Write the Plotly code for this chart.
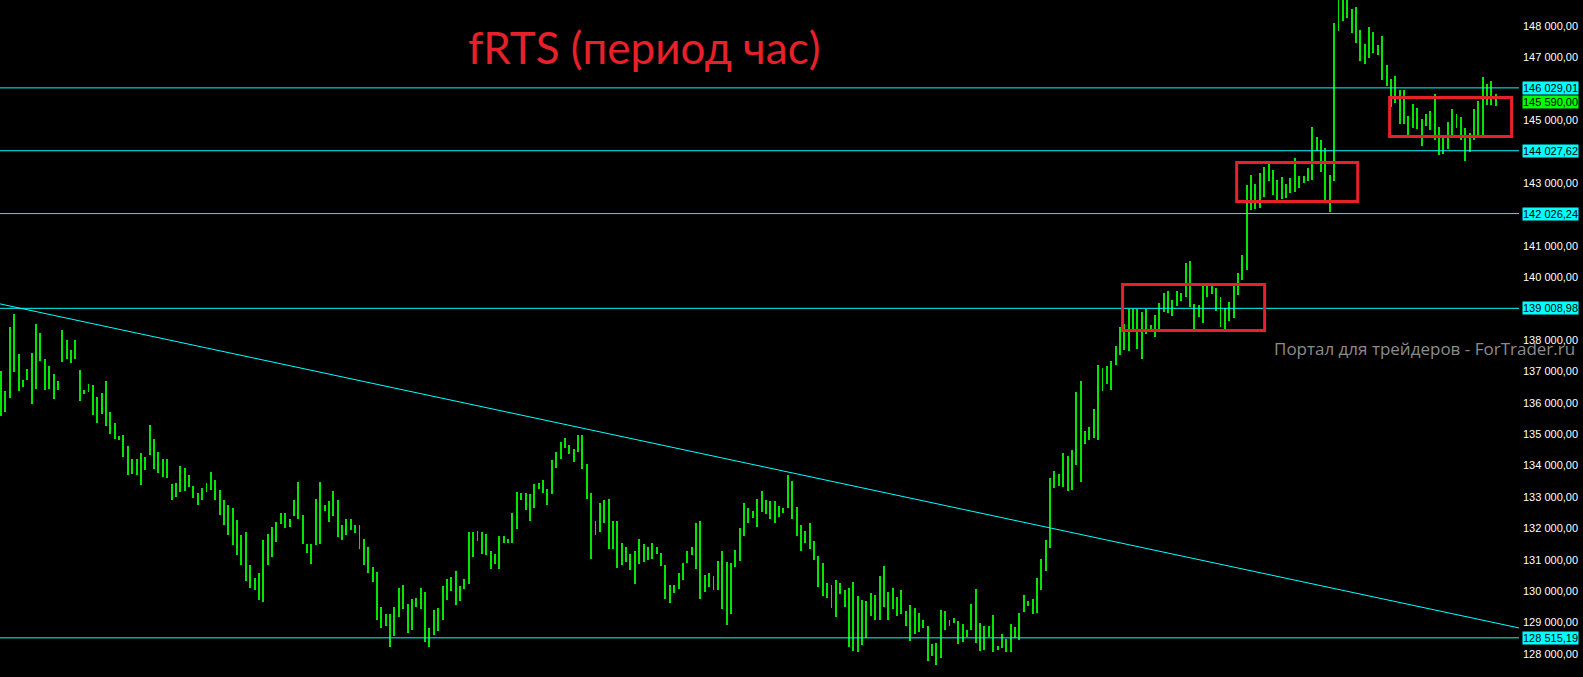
import plotly.graph_objects as go

# ---- data: hourly bars of fRTS (high / low, price units) ----
highs = [137020,136380,138420,138830,137550,136730,137070,137580,138510,138220,
137390,137170,136920,136700,138320,138000,137680,138000,137050,136410,
136600,136570,136190,136310,136700,135710,135350,134940,134970,134630,
134210,134210,134400,134270,135290,134850,134440,134210,134210,133410,
133440,133990,133920,133700,133350,133120,133290,133440,133800,133540,
133220,132910,132750,132660,132270,131790,131890,130830,130420,130580,
131630,131820,132050,132210,132490,132490,132300,132910,133480,132430,
131500,131500,132940,133480,132750,132880,133190,132910,132110,132300,
132300,132110,132110,131660,131410,130770,130610,129500,129270,129270,
129500,130100,130200,129590,129750,129780,130100,129980,128830,129400,
129470,130170,130390,130450,130650,130170,130390,131890,131890,131920,
131890,131820,131280,131180,131760,131760,131660,132490,133160,133120,
133120,133090,133410,133440,133540,133250,134180,134440,134760,134880,
134660,134530,134970,134970,134050,133120,132240,132810,132910,132940,
132240,132240,131530,131410,131180,131280,131660,131500,131410,131530,
131410,131210,130830,130200,130200,130580,130900,131280,131410,132180,
132240,130520,130580,130490,130960,131280,130930,130900,131310,132020,
132810,132660,132560,132940,133190,132910,132880,132880,132720,132660,
133700,133510,132690,132110,131920,132180,131600,131120,130900,130260,
130200,130360,130260,130040,130100,130300,129850,129720,129690,129950,
129880,130490,130800,129980,130100,129820,130040,129370,129560,129470,
129310,129080,128890,128320,128350,129400,129370,129080,129150,129050,
128960,128760,129590,130070,128990,128890,128890,129240,128260,128630,
128480,128960,128860,129310,129880,129690,129750,130420,131020,131630,
133610,133830,133730,134400,134310,134500,136350,136700,135100,135230,
135800,137200,137110,137170,137330,137810,138420,138510,138990,138990,
138990,138900,138990,138480,138800,139180,139500,139560,139280,139560,
139500,140450,140520,139150,139120,139720,139720,139720,139660,139370,
139020,139210,139720,140130,140710,142940,143260,142970,143320,143510,
143610,143420,143100,143190,142970,143160,143800,143220,143220,143480,
144790,144470,144370,144120,143260,148100,148950,148950,148950,148540,
148610,147870,147430,147970,147810,147400,147680,146760,146310,146410,
145960,145960,145140,145520,145390,145040,145200,145300,145840,144790,
144430,144940,145360,145200,145100,144750,144590,145360,145610,146380,
146150,146250,145840]

lows = [135580,135710,136160,136990,136380,136510,136730,135960,136440,137330,
136410,136440,136120,136410,137300,137390,137260,137390,136060,136280,
136350,135610,135350,135640,135260,135000,134850,134820,134270,133700,
133730,133700,133380,133860,134340,133890,133760,133640,133610,132910,
133000,133160,133190,133320,132970,132750,132910,133160,133220,132910,
132430,132110,131790,131470,131150,130830,130330,130100,130040,129720,
129660,130830,131080,131570,132140,132020,132050,132400,132300,131500,
131210,130860,131470,131500,132560,132210,132400,131730,131630,131790,
131950,131850,131340,130830,130580,130300,129080,128830,128890,128220,
128570,129180,129430,128670,128760,129500,129430,128380,128220,128600,
128730,129080,129720,130010,129560,129690,130070,130230,131080,131600,
131180,131150,130710,130860,130710,131530,131530,131530,131980,132910,
132590,132240,132660,133250,133120,132750,133090,133920,134210,134570,
134370,134120,134440,133890,132940,131020,131790,131890,132180,131340,
131340,130740,130830,130930,130680,130230,130860,130930,130990,131020,
131180,130800,129750,129620,129950,130070,130360,130900,131150,130710,
129750,129980,130140,130040,130040,129430,128920,129270,130770,130960,
131760,132180,132330,132050,132520,132460,132300,132180,132370,132490,
132660,132300,131760,131280,131530,131340,130990,130140,129850,129780,
129470,129180,129910,129500,128220,128100,128060,128290,128510,129210,
129080,129080,129500,129080,129430,129210,129270,128890,128410,128630,
128700,128830,127780,127940,127650,127870,128760,128890,128990,128320,
128380,128540,128760,128350,128100,128130,128540,128060,128130,128190,
128060,128060,128510,128450,129340,129530,129270,129310,130040,130650,
131370,133290,133350,133320,133190,133220,134020,133480,134690,134820,
134880,134820,136380,136600,136410,137200,137520,137680,137650,138350,
137710,137390,138190,138350,138100,138350,138900,138860,138770,139090,
139250,139370,139050,138350,138730,138540,139370,139470,138930,138420,
138350,138610,138700,139430,139910,140230,142140,142170,142210,142560,
143070,142620,142370,142490,142520,142680,142710,142840,143000,143070,
143100,144020,143350,142400,142080,143070,147840,148160,148260,147780,
147460,146890,146790,146980,147140,147080,146280,146090,145420,145550,
144880,144880,144530,144750,144720,144180,144820,144690,144370,143890,
143920,144080,144530,144750,144370,143700,143990,144370,144530,144530,
145490,145490,145450]

# horizontal support / resistance levels and price tags
levels = [146029.01, 144027.62, 142026.24, 139008.98, 128515.19]
level_labels = ["146 029,01", "144 027,62", "142 026,24", "139 008,98", "128 515,19"]
last_price = 145590.00
last_label = "145 590,00"

# descending trend line (price at left and right edge of the view)
trend_start = 139150
trend_end = 128830

# consolidation boxes: (bar index from, bar index to, price low, price high)
boxes = [(256.6, 289.1, 138300, 139770),
         (282.7, 310.4, 142410, 143650),
         (317.7, 345.6, 144480, 145720)]

# y-axis grid labels
tick_vals = [148000, 147000, 145000, 143000, 141000, 140000, 138000, 137000,
             136000, 135000, 134000, 133000, 132000, 131000, 130000, 129000, 128000]
tick_text = [f"{v // 1000} 000,00" for v in tick_vals]

idx = list(range(len(highs)))
rng = [h - l for h, l in zip(highs, lows)]

fig = go.Figure()
fig.add_trace(go.Bar(x=idx, y=rng, base=lows, width=0.45,
                     marker=dict(color="#00e600", line=dict(width=0)),
                     hoverinfo="skip", showlegend=False))

shapes = []
for lv in levels:
    shapes.append(dict(type="line", xref="paper", yref="y", x0=0, x1=1, y0=lv, y1=lv,
                       line=dict(color="#00ffff", width=1), layer="above"))
shapes.append(dict(type="line", xref="paper", yref="y", x0=0, x1=1,
                   y0=trend_start, y1=trend_end, line=dict(color="#00ffff", width=1)))
for x0, x1, y0, y1 in boxes:
    shapes.append(dict(type="rect", xref="x", yref="y", x0=x0, x1=x1, y0=y0, y1=y1,
                       line=dict(color="#e8202a", width=3), fillcolor="rgba(0,0,0,0)"))

annotations = []
for lv, txt in zip(levels, level_labels):
    annotations.append(dict(x=1.002, xref="paper", y=lv, yref="y", text=txt,
                            showarrow=False, xanchor="left", yanchor="middle",
                            bgcolor="#00ffff", borderpad=0,
                            font=dict(family="Liberation Sans", size=11, color="#000000")))
annotations.append(dict(x=1.002, xref="paper", y=last_price, yref="y", text=last_label,
                        showarrow=False, xanchor="left", yanchor="middle",
                        bgcolor="#00ff00", borderpad=0,
                        font=dict(family="Liberation Sans", size=11, color="#000000")))
annotations.append(dict(x=0.424, xref="paper", y=0.93, yref="paper",
                        text="fRTS (период час)", showarrow=False,
                        xanchor="center", yanchor="middle",
                        font=dict(family="Lato", size=44, color="#e8202a")))
annotations.append(dict(x=1.038, xref="paper", y=137720, yref="y",
                        text="Портал для трейдеров - ForTrader.ru", showarrow=False,
                        xanchor="right", yanchor="middle",
                        font=dict(family="Open Sans", size=17, color="#8c8c8c")))

fig.update_layout(
    width=1583, height=677, autosize=False,
    margin=dict(l=0, r=64, t=0, b=0, pad=0),
    paper_bgcolor="#000000", plot_bgcolor="#000000",
    bargap=0,
    shapes=shapes, annotations=annotations,
    xaxis=dict(range=[-0.25, 347.3], visible=False, fixedrange=True),
    yaxis=dict(range=[127268, 148828], side="right", showgrid=False, zeroline=False,
               tickvals=tick_vals, ticktext=tick_text, ticks="", showline=False,
               ticklabelstandoff=3, fixedrange=True,
               tickfont=dict(family="Liberation Sans", size=11, color="#ffffff")),
)

fig.write_html("out.html", config={"displayModeBar": False, "staticPlot": True},
               post_script="document.body.style.margin='0';document.body.style.background='#000';")
